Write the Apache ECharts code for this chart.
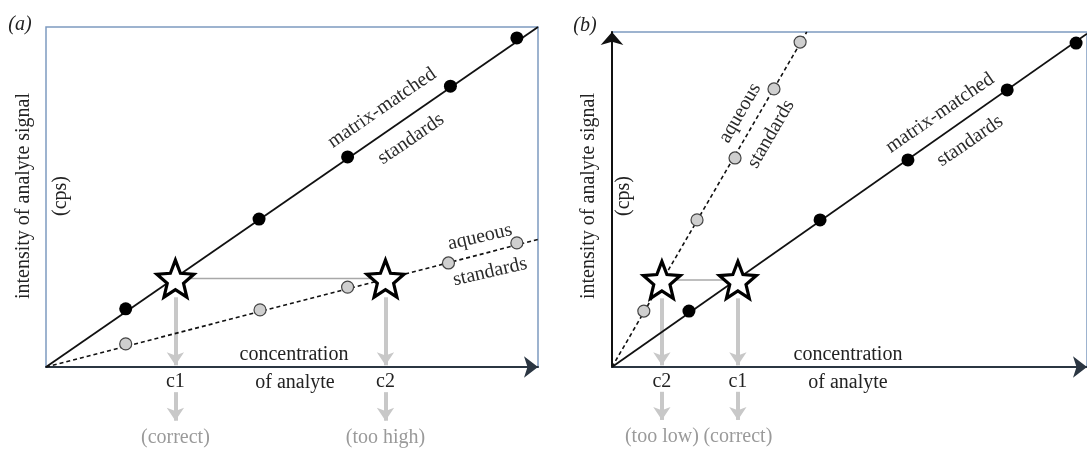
<!DOCTYPE html>
<html><head><meta charset="utf-8">
<script src="https://cdn.jsdelivr.net/npm/echarts@6/dist/echarts.min.js"></script>
<style>html,body{margin:0;padding:0;background:#fff}#c{width:1087px;height:449px}</style>
</head><body><div id="c"></div>
<script>
// ---- data (arbitrary concentration / intensity units, 0..10) ----
const matrixA_x = [1.62, 4.33, 6.13, 8.22, 9.57];
const matrixA_y = [1.71, 4.35, 6.18, 8.26, 9.68];
const aqueousA_x = [1.62, 4.35, 6.13, 8.18, 9.57];
const aqueousA_y = [0.68, 1.68, 2.35, 3.06, 3.65];
const matrixFitA_x = [0, 10];
const matrixFitA_y = [0, 10];
const aqueousFitA_x = [0, 10];
const aqueousFitA_y = [0, 3.75];
const sampleA_x = [2.63, 6.9];
const sampleA_y = [2.6, 2.6];
const sampleA_names = ['c1', 'c2'];
const sampleA_notes = ['(correct)', '(too high)'];

const matrixB_x = [1.62, 4.38, 6.23, 8.32, 9.77];
const matrixB_y = [1.67, 4.39, 6.18, 8.27, 9.67];
const aqueousB_x = [0.67, 1.79, 2.59, 3.41, 3.96];
const aqueousB_y = [1.67, 4.39, 6.24, 8.30, 9.70];
const matrixFitB_x = [0, 10];
const matrixFitB_y = [0, 9.95];
const aqueousFitB_x = [0, 4.1];
const aqueousFitB_y = [0, 10];
const sampleB_x = [1.05, 2.65];
const sampleB_y = [2.6, 2.6];
const sampleB_names = ['c2', 'c1'];
const sampleB_notes = ['(too low)', '(correct)'];

const zip = (xs, ys) => xs.map((x, i) => [x, ys[i]]);
const STAR = 'path://M50 0 L62.93 32.2 L97.55 34.55 L70.92 56.8 L79.39 90.45 L50 72 L20.61 90.45 L29.08 56.8 L2.45 34.55 L37.07 32.2 Z';
const SERIF = '"Liberation Serif", "DejaVu Serif", serif';

function panelSeries(idx, mx, my, ax, ay, mfx, mfy, afx, afy, sx, sy) {
  const base = { xAxisIndex: idx, yAxisIndex: idx, silent: true, animation: false };
  return [
    Object.assign({ type: 'line', data: zip(mfx, mfy), symbol: 'none', z: 2,
      lineStyle: { color: '#111', width: 1.8 } }, base),
    Object.assign({ type: 'line', data: zip(afx, afy), symbol: 'none', z: 2,
      lineStyle: { color: '#111', width: 1.6, type: [4, 3] } }, base),
    Object.assign({ type: 'line', data: zip(sx, sy), symbol: 'none', z: 1,
      lineStyle: { color: '#a8a8a8', width: 1.5 } }, base),
    Object.assign({ type: 'lines', coordinateSystem: 'cartesian2d', clip: false, z: 1,
      symbol: ['none', 'arrow'], symbolSize: 13,
      lineStyle: { color: '#c8c8c8', width: 4, opacity: 1 },
      data: sx.map((x, i) => ({ coords: [[x, sy[i] - 0.55], [x, 0.05]] })) }, base),
    Object.assign({ type: 'lines', coordinateSystem: 'cartesian2d', clip: false, z: 1,
      symbol: ['none', 'arrow'], symbolSize: 13,
      lineStyle: { color: '#c8c8c8', width: 4, opacity: 1 },
      data: sx.map((x) => ({ coords: [[x, -0.74], [x, -1.58]] })) }, base),
    Object.assign({ type: 'scatter', data: zip(mx, my), symbol: 'circle', symbolSize: 13, z: 4,
      itemStyle: { color: '#000', opacity: 1 } }, base),
    Object.assign({ type: 'scatter', data: zip(ax, ay), symbol: 'circle', symbolSize: 12, z: 4,
      itemStyle: { color: '#cfcfcf', borderColor: '#444', borderWidth: 1.2, opacity: 1 } }, base),
    Object.assign({ type: 'scatter', data: zip(sx, sy), symbol: STAR, symbolSize: [37, 37], z: 6,
      itemStyle: { color: '#fff', borderColor: '#000', borderWidth: 3.2, opacity: 1 } }, base)
  ];
}

function txt(text, x, y, opt) {
  opt = opt || {};
  return { type: 'text', x: x, y: y, rotation: opt.rot || 0, z: 100, silent: true,
    style: { text: text, fill: opt.color || '#2a2a2a',
      font: (opt.italic ? 'italic ' : '') + (opt.size || 20) + 'px ' + SERIF,
      textAlign: 'center', textVerticalAlign: 'middle', align: 'center', verticalAlign: 'middle' } };
}

const deg = Math.PI / 180;
const chart = echarts.init(document.getElementById('c'), null, { renderer: 'canvas' });
const hiddenAxis = { type: 'value', min: 0, max: 10, axisLabel: { show: false }, axisTick: { show: false }, splitLine: { show: false } };

chart.setOption({
  backgroundColor: '#fff',
  animation: false,
  grid: [
    { left: 46, top: 27, width: 492, height: 340, show: true, borderColor: '#7d9ac0', borderWidth: 1.5, backgroundColor: 'transparent' },
    { left: 612, top: 32, width: 475, height: 335, show: true, borderColor: '#7d9ac0', borderWidth: 1.5, backgroundColor: 'transparent' }
  ],
  xAxis: [
    Object.assign({}, hiddenAxis, { gridIndex: 0, axisLine: { show: true, symbol: ['none', 'arrow'], symbolSize: [16, 14], lineStyle: { color: '#2b3642', width: 2 } } }),
    Object.assign({}, hiddenAxis, { gridIndex: 1, axisLine: { show: true, symbol: ['none', 'arrow'], symbolSize: [16, 14], lineStyle: { color: '#2b3642', width: 2 } } })
  ],
  yAxis: [
    Object.assign({}, hiddenAxis, { gridIndex: 0, axisLine: { show: false } }),
    Object.assign({}, hiddenAxis, { gridIndex: 1, axisLine: { show: true, symbol: ['none', 'arrow'], symbolSize: [17, 13], lineStyle: { color: '#111', width: 2 } } })
  ],
  series: [].concat(
    panelSeries(0, matrixA_x, matrixA_y, aqueousA_x, aqueousA_y, matrixFitA_x, matrixFitA_y, aqueousFitA_x, aqueousFitA_y, sampleA_x, sampleA_y),
    panelSeries(1, matrixB_x, matrixB_y, aqueousB_x, aqueousB_y, matrixFitB_x, matrixFitB_y, aqueousFitB_x, aqueousFitB_y, sampleB_x, sampleB_y)
  )
});

function px(gi, x, y) { return chart.convertToPixel({ gridIndex: gi }, [x, y]); }
const g = [];
// panel a
g.push(txt('(a)', 20, 25, { italic: true, color: '#222' }));
g.push(txt('intensity of analyte signal', 24, 196, { rot: 90 * deg, color: '#222' }));
g.push(txt('(cps)', 61, 196, { rot: 90 * deg, color: '#222' }));
g.push(txt('matrix-matched', 382, 108, { rot: 34.5 * deg }));
g.push(txt('standards', 411, 139, { rot: 34.5 * deg }));
g.push(txt('aqueous', 480, 237, { rot: 13 * deg }));
g.push(txt('standards', 490, 272, { rot: 13 * deg }));
g.push(txt('concentration', 294, 355, { color: '#222' }));
g.push(txt('of analyte', 295, 383, { color: '#222' }));
sampleA_x.forEach((x, i) => {
  const p = px(0, x, 0);
  g.push(txt(sampleA_names[i], p[0], 382, { color: '#222' }));
  g.push(txt(sampleA_notes[i], p[0], 438, { color: '#9a9a9a' }));
});
// panel b
g.push(txt('(b)', 585, 26, { italic: true, color: '#222' }));
g.push(txt('intensity of analyte signal', 589, 196, { rot: 90 * deg, color: '#222' }));
g.push(txt('(cps)', 624, 196, { rot: 90 * deg, color: '#222' }));
g.push(txt('aqueous', 740, 113, { rot: 60 * deg }));
g.push(txt('standards', 771, 134, { rot: 60 * deg }));
g.push(txt('matrix-matched', 940, 113, { rot: 34.5 * deg }));
g.push(txt('standards', 970, 141, { rot: 34.5 * deg }));
g.push(txt('concentration', 848, 355, { color: '#222' }));
g.push(txt('of analyte', 848, 383, { color: '#222' }));
sampleB_x.forEach((x, i) => {
  const p = px(1, x, 0);
  g.push(txt(sampleB_names[i], p[0], 382, { color: '#222' }));
  g.push(txt(sampleB_notes[i], p[0], 437, { color: '#9a9a9a' }));
});
chart.setOption({ graphic: g });
</script>
</body></html>
